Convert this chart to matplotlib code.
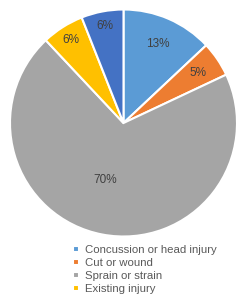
import matplotlib.pyplot as plt
import numpy as np

categories = ['Concussion or head injury', 'Cut or wound', 'Sprain or strain',
              'Existing injury', 'Other']
shares = [13, 5, 70, 6, 6]
colors = ['#5B9BD5', '#ED7D31', '#A5A5A5', '#FFC000', '#4472C4']
# how far out each % label sits (fraction of radius)
label_dist = [0.76, 0.79, 0.53, 0.87, 0.87]
label_shift = [0, 0, -7, 0, 0]  # degrees, nudges the big slice label

plt.rcParams['font.family'] = ['Liberation Sans', 'DejaVu Sans']

fig = plt.figure(figsize=(2.44, 3.0), dpi=100)
W, H = 244, 300
cx, cy, r = 123.5, 123, 113.5
ax = fig.add_axes([(cx - r) / W, 1 - (cy + r) / H, 2 * r / W, 2 * r / H])

wedges, _ = ax.pie(shares, colors=colors, startangle=90, counterclock=False,
                   radius=1, wedgeprops=dict(edgecolor='white', linewidth=1.5))
ax.set_xlim(-1, 1)
ax.set_ylim(-1, 1)
ax.set_aspect('equal')
ax.axis('off')

for w, v, d, s in zip(wedges, shares, label_dist, label_shift):
    mid = np.deg2rad((w.theta1 + w.theta2) / 2 + s)
    ax.text(d * np.cos(mid), d * np.sin(mid), f'{v}%', ha='center', va='center',
            fontsize=8.5, color='#404040')

fig.legend(wedges[:4], categories[:4], loc='upper left',
           bbox_to_anchor=(73 / W, 1 - 245 / H), frameon=False,
           fontsize=8.2, labelcolor='#595959', handlelength=0.5, handleheight=0.5,
           handletextpad=0.55, labelspacing=0.26, borderaxespad=0, borderpad=0)

fig.savefig('out.png', dpi=100)
